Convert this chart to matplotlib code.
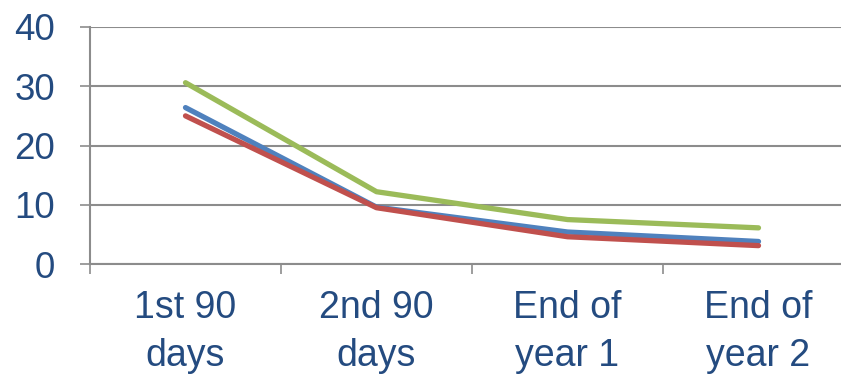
import matplotlib
matplotlib.use("Agg")
import matplotlib.pyplot as plt
import numpy as np

# data
categories = ["1st 90\ndays", "2nd 90\ndays", "End of\nyear 1", "End of\nyear 2"]
green_vals = [30.6, 12.2, 7.5, 6.1]
blue_vals = [26.4, 9.6, 5.4, 3.8]
red_vals = [25.0, 9.5, 4.6, 3.1]
y_ticks = [0, 10, 20, 30, 40]

text_color = "#244b80"
grid_color = "#8c8c8c"

plt.rcParams["font.family"] = ["Liberation Sans", "DejaVu Sans"]

fig = plt.figure(figsize=(8.41, 3.74), dpi=100)
W, H = 841, 374
left, right, bottom, top = 90, 854, 264, 27
ax = fig.add_axes([left / W, (H - bottom) / H, (right - left) / W, (bottom - top) / H])

x = np.arange(len(categories))
for vals, color in [(green_vals, "#9bbb59"), (blue_vals, "#4f81bd"), (red_vals, "#c0504d")]:
    ax.plot(x, vals, color=color, lw=3.8, solid_capstyle="round", solid_joinstyle="round")

ax.set_xlim(-0.5, len(categories) - 0.5)
ax.set_ylim(0, 40)

ax.set_yticks(y_ticks)
ax.set_yticklabels([str(v) for v in y_ticks])
ax.yaxis.grid(True, color=grid_color, lw=1.5)
ax.set_axisbelow(True)

ax.set_xticks(x)
ax.set_xticklabels(categories, linespacing=1.4)
ax.set_xticks(np.arange(-0.5, len(categories), 1.0), minor=True)

ax.tick_params(axis="y", which="major", length=7, width=1.2, color=grid_color,
               labelsize=26.5, labelcolor=text_color, pad=18)
ax.tick_params(axis="x", which="major", length=0, labelsize=27,
               labelcolor=text_color, pad=19)
ax.tick_params(axis="x", which="minor", length=7, width=1.2, color=grid_color)

for side in ["top", "right"]:
    ax.spines[side].set_visible(False)
for side in ["left", "bottom"]:
    ax.spines[side].set_color(grid_color)
    ax.spines[side].set_linewidth(1.5)

fig.savefig("out.png", dpi=100)
